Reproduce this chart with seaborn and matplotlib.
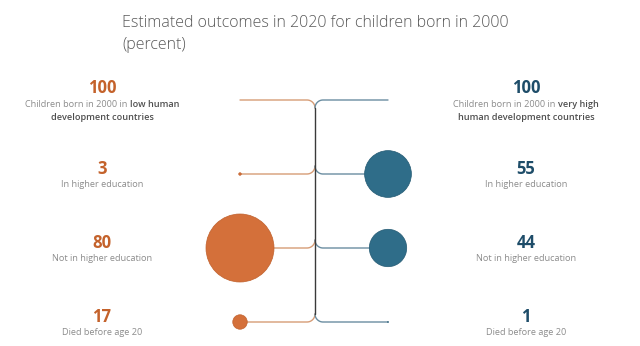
import numpy as np
import pandas as pd
import matplotlib
matplotlib.use("Agg")
import matplotlib.pyplot as plt
import seaborn as sns

# ---- data -------------------------------------------------------------
outcomes = ["Born in 2000", "In higher education", "Not in higher education", "Died before age 20"]
low_hd_values = [100, 3, 80, 17]
very_high_hd_values = [100, 55, 44, 1]
outcome_labels = ["", "In higher education", "Not in higher education", "Died before age 20"]

title_lines = ["Estimated outcomes in 2020 for children born in 2000", "(percent)"]

# first-row descriptions: (regular lead-in, bold part on line 1, bold line 2)
low_intro = ("Children born in 2000 in", "low human", "development countries")
high_intro = ("Children born in 2000 in", "very high", "human development countries")

# ---- style ------------------------------------------------------------
sns.set_theme(style="white")
plt.rcParams["font.family"] = ["Open Sans", "DejaVu Sans"]

ORANGE_FILL, ORANGE_EDGE, ORANGE_TEXT, ORANGE_LINE = "#D4703A", "#C0602C", "#C4622B", "#D69C76"
BLUE_FILL, BLUE_EDGE, BLUE_TEXT, BLUE_LINE = "#2F6D89", "#245A73", "#1E4D69", "#6A8DA1"
GREY, DARK_GREY, TRUNK = "#8C8C8C", "#4F4F4F", "#3A3A3A"

W, H = 640, 346
fig = plt.figure(figsize=(W / 100, H / 100), dpi=100)
ax = fig.add_axes([0, 0, 1, 1])
ax.set_xlim(0, W)
ax.set_ylim(H, 0)
ax.axis("off")

# layout (pixel canvas)
row_y = [100 + 74 * i for i in range(len(outcomes))]
trunk_x, bend = 315, 8
left_x, right_x = 240, 388
left_text_x, right_text_x = 102, 526
px_per_unit = 0.85  # circle diameter per percentage point


def branch(side, y, top):
    """Horizontal connector that bends into the central trunk."""
    th = np.linspace(0, np.pi / 2, 20)
    sgn = -1 if side == "left" else 1
    end_x = left_x if side == "left" else right_x
    cx = trunk_x + sgn * bend
    if top:
        cy = y + bend
        arc_x = cx - sgn * bend * np.sin(th)
        arc_y = cy - bend * np.cos(th)
    else:
        cy = y - bend
        arc_x = cx - sgn * bend * np.sin(th)
        arc_y = cy + bend * np.cos(th)
    xs = np.concatenate([[end_x], arc_x])
    ys = np.concatenate([[y], arc_y])
    color = ORANGE_LINE if side == "left" else BLUE_LINE
    ax.plot(xs, ys, color=color, lw=1.0, solid_capstyle="round", zorder=1)


for i, y in enumerate(row_y):
    branch("left", y, i == 0)
    branch("right", y, i == 0)
ax.plot([trunk_x, trunk_x], [row_y[0] + bend, row_y[-1] - bend], color=TRUNK, lw=1.0, zorder=1)

# circles for the outcome rows (the 100% starting row has no circle)
df = pd.DataFrame({
    "outcome": outcomes[1:] * 2,
    "value": low_hd_values[1:] + very_high_hd_values[1:],
    "side": ["low"] * 3 + ["very high"] * 3,
    "y": row_y[1:] * 2,
})
df["x"] = np.where(df["side"] == "low", left_x, right_x)
for side, fill, edge in [("low", ORANGE_FILL, ORANGE_EDGE), ("very high", BLUE_FILL, BLUE_EDGE)]:
    sub = df[df["side"] == side]
    diam_pt = px_per_unit * sub["value"].to_numpy() * 72 / 100
    sns.scatterplot(data=sub, x="x", y="y", s=diam_pt ** 2, color=fill,
                    edgecolor=edge, linewidth=0.5, ax=ax, legend=False, zorder=3)

# ---- text ---------------------------------------------------------------
renderer = fig.canvas.get_renderer()
LABEL_SIZE, NUM_SIZE = 6.6, 12


def text_width(s, weight, size):
    t = ax.text(0, 0, s, fontsize=size, fontweight=weight)
    w = t.get_window_extent(renderer).width
    t.remove()
    return w


def centered_runs(cx, y, runs, size=LABEL_SIZE):
    space = text_width("x x", "normal", size) - text_width("xx", "normal", size)
    widths = [text_width(s, wgt, size) for s, wgt, _ in runs]
    total = sum(widths) + space * (len(runs) - 1)
    x = cx - total / 2
    for (s, wgt, col), w in zip(runs, widths):
        ax.text(x, y, s, fontsize=size, fontweight=wgt, color=col, ha="left", va="baseline")
        x += w + space


for cx, vals, intro, col in [(left_text_x, low_hd_values, low_intro, ORANGE_TEXT),
                             (right_text_x, very_high_hd_values, high_intro, BLUE_TEXT)]:
    for i, y in enumerate(row_y):
        if i == 0:
            ax.text(cx, y - 7, str(vals[i]), fontsize=NUM_SIZE, fontweight="bold",
                    color=col, ha="center", va="baseline")
            centered_runs(cx, y + 7, [(intro[0], "normal", GREY), (intro[1], "semibold", DARK_GREY)])
            centered_runs(cx, y + 20, [(intro[2], "semibold", DARK_GREY)])
        else:
            ax.text(cx, y, str(vals[i]), fontsize=NUM_SIZE, fontweight="bold",
                    color=col, ha="center", va="baseline")
            ax.text(cx, y + 13, outcome_labels[i], fontsize=LABEL_SIZE, color=GREY,
                    ha="center", va="baseline")

ax.text(122, 27, title_lines[0], fontsize=11.5, fontweight="light", color="#5A5A5A",
        ha="left", va="baseline")
ax.text(122, 49, title_lines[1], fontsize=11.5, fontweight="light", color="#5A5A5A",
        ha="left", va="baseline")

fig.savefig("out.png", dpi=100, facecolor="white")
